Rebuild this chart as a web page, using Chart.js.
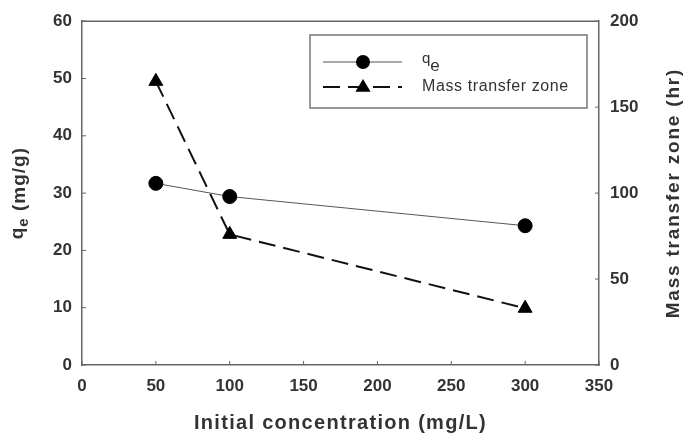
<!DOCTYPE html>
<html>
<head>
<meta charset="utf-8">
<script src="https://cdn.jsdelivr.net/npm/chart.js@4.4.0/dist/chart.umd.min.js"></script>
<style>
  html, body { margin: 0; padding: 0; background: #fff; }
  #wrap { width: 687px; height: 439px; }
</style>
</head>
<body>
<div id="wrap"><canvas id="chart"></canvas></div>
<script>
// Data
const concentrations = [50, 100, 300];          // mg/L
const qeValues = [31.7, 29.4, 24.3];            // mg/g (left axis)
const mtzValues = [165, 76, 33];                // hr (right axis)

// Axis ranges / ticks
const xRange = [0, 350], xStep = 50;
const leftRange = [0, 60], leftStep = 10;
const rightRange = [0, 200], rightStep = 50;

const FONT = "'Liberation Sans', Arial, sans-serif";
const axisColor = '#666';
const labelColor = '#333';

function points(xs, ys) {
  return xs.map((x, i) => ({ x: x, y: ys[i] }));
}

function spacing(ctx, px) {
  if ('letterSpacing' in ctx) ctx.letterSpacing = px + 'px';
}

// inward ticks, top frame line and axis titles
const frame = {
  id: 'frame',
  afterDraw(chart) {
    const { ctx, chartArea: a, scales } = chart;
    ctx.save();
    ctx.strokeStyle = axisColor;
    ctx.lineWidth = 1.5;
    ctx.beginPath();
    ctx.moveTo(a.left, a.top);
    ctx.lineTo(a.right, a.top);
    ctx.stroke();

    ctx.lineWidth = 1;
    ctx.beginPath();
    scales.x.ticks.forEach(t => {
      const px = scales.x.getPixelForValue(t.value);
      ctx.moveTo(px, a.bottom);
      ctx.lineTo(px, a.bottom - 4);
    });
    scales.y.ticks.forEach(t => {
      const py = scales.y.getPixelForValue(t.value);
      ctx.moveTo(a.left, py);
      ctx.lineTo(a.left + 4, py);
    });
    scales.y1.ticks.forEach(t => {
      const py = scales.y1.getPixelForValue(t.value);
      ctx.moveTo(a.right, py);
      ctx.lineTo(a.right - 4, py);
    });
    ctx.stroke();

    // axis titles
    ctx.fillStyle = labelColor;
    ctx.textBaseline = 'middle';
    const midY = (a.top + a.bottom) / 2;

    ctx.font = 'bold 20px ' + FONT;
    ctx.textAlign = 'center';
    spacing(ctx, 1.3);
    ctx.fillText('Initial concentration (mg/L)', (a.left + a.right) / 2, 423);

    // left title with subscript
    ctx.save();
    ctx.translate(20, midY);
    ctx.rotate(-Math.PI / 2);
    ctx.textAlign = 'left';
    spacing(ctx, 1);
    const big = 'bold 19px ' + FONT, small = 'bold 15px ' + FONT;
    ctx.font = big; const wq = ctx.measureText('q').width;
    ctx.font = small; const we = ctx.measureText('e').width;
    ctx.font = big; const wr = ctx.measureText(' (mg/g)').width;
    let x0 = -(wq + we + wr) / 2;
    ctx.font = big; ctx.fillText('q', x0, -2);
    ctx.font = small; ctx.fillText('e', x0 + wq, 4);
    ctx.font = big; ctx.fillText(' (mg/g)', x0 + wq + we, 0);
    ctx.restore();

    ctx.save();
    ctx.translate(674, midY);
    ctx.rotate(-Math.PI / 2);
    ctx.textAlign = 'center';
    spacing(ctx, 1.8);
    ctx.font = 'bold 19px ' + FONT;
    ctx.fillText('Mass transfer zone (hr)', 0, 0);
    ctx.restore();

    ctx.restore();
  }
};

// boxed legend inside the plot
const boxLegend = {
  id: 'boxLegend',
  afterDraw(chart) {
    const ctx = chart.ctx;
    const ds = chart.data.datasets;
    ctx.save();
    ctx.strokeStyle = '#777';
    ctx.lineWidth = 1.5;
    ctx.strokeRect(310, 35, 277, 73);

    const rows = [62, 87];
    rows.forEach((y, i) => {
      const d = ds[i];
      ctx.strokeStyle = d.borderColor;
      ctx.lineWidth = d.borderWidth;
      ctx.setLineDash(d.borderDash || []);
      ctx.beginPath();
      ctx.moveTo(323, y);
      ctx.lineTo(402, y);
      ctx.stroke();
      ctx.setLineDash([]);
      ctx.fillStyle = '#000';
      ctx.beginPath();
      if (d.pointStyle === 'circle') {
        ctx.arc(363, y, d.pointRadius, 0, Math.PI * 2);
      } else {
        const r = d.pointRadius;
        ctx.moveTo(363, y - r);
        ctx.lineTo(363 + r * 0.95, y + r * 0.6);
        ctx.lineTo(363 - r * 0.95, y + r * 0.6);
        ctx.closePath();
      }
      ctx.fill();
    });

    ctx.fillStyle = labelColor;
    ctx.textBaseline = 'middle';
    ctx.textAlign = 'left';
    ctx.font = '15px ' + FONT;
    ctx.fillText('q', 422, rows[0] - 3);
    const wq = ctx.measureText('q').width;
    ctx.font = '17px ' + FONT;
    ctx.fillText('e', 422 + wq, rows[0] + 4);
    ctx.font = '16px ' + FONT;
    spacing(ctx, 0.6);
    ctx.fillText('Mass transfer zone', 422, rows[1]);
    ctx.restore();
  }
};

const tickFont = { family: FONT, size: 17, weight: 'bold' };

new Chart(document.getElementById('chart'), {
  type: 'line',
  data: {
    datasets: [
      {
        label: 'qe',
        data: points(concentrations, qeValues),
        yAxisID: 'y',
        borderColor: '#555',
        borderWidth: 1,
        pointStyle: 'circle',
        pointRadius: 7,
        pointBackgroundColor: '#000',
        pointBorderColor: '#000',
        pointBorderWidth: 1
      },
      {
        label: 'Mass transfer zone',
        data: points(concentrations, mtzValues),
        yAxisID: 'y1',
        borderColor: '#111',
        borderWidth: 2,
        borderDash: [17, 8],
        pointStyle: 'triangle',
        pointRadius: 8,
        pointBackgroundColor: '#000',
        pointBorderColor: '#000',
        pointBorderWidth: 1
      }
    ]
  },
  options: {
    responsive: true,
    maintainAspectRatio: false,
    animation: false,
    layout: { padding: { top: 18 } },
    plugins: {
      legend: { display: false },
      tooltip: { enabled: false }
    },
    scales: {
      x: {
        type: 'linear',
        min: xRange[0], max: xRange[1],
        grid: { display: false, drawTicks: false },
        border: { color: axisColor, width: 1.5 },
        ticks: { stepSize: xStep, font: tickFont, color: labelColor, padding: 11 },
        afterFit(s) { s.height = 74; }
      },
      y: {
        position: 'left',
        min: leftRange[0], max: leftRange[1],
        grid: { display: false, drawTicks: false },
        border: { color: axisColor, width: 1.5 },
        ticks: { stepSize: leftStep, font: tickFont, color: labelColor, padding: 10 },
        afterFit(s) { s.width = 82; }
      },
      y1: {
        position: 'right',
        min: rightRange[0], max: rightRange[1],
        grid: { display: false, drawTicks: false },
        border: { color: axisColor, width: 1.5 },
        ticks: { stepSize: rightStep, font: tickFont, color: labelColor, padding: 11 },
        afterFit(s) { s.width = 88; }
      }
    }
  },
  plugins: [frame, boxLegend]
});
</script>
</body>
</html>
